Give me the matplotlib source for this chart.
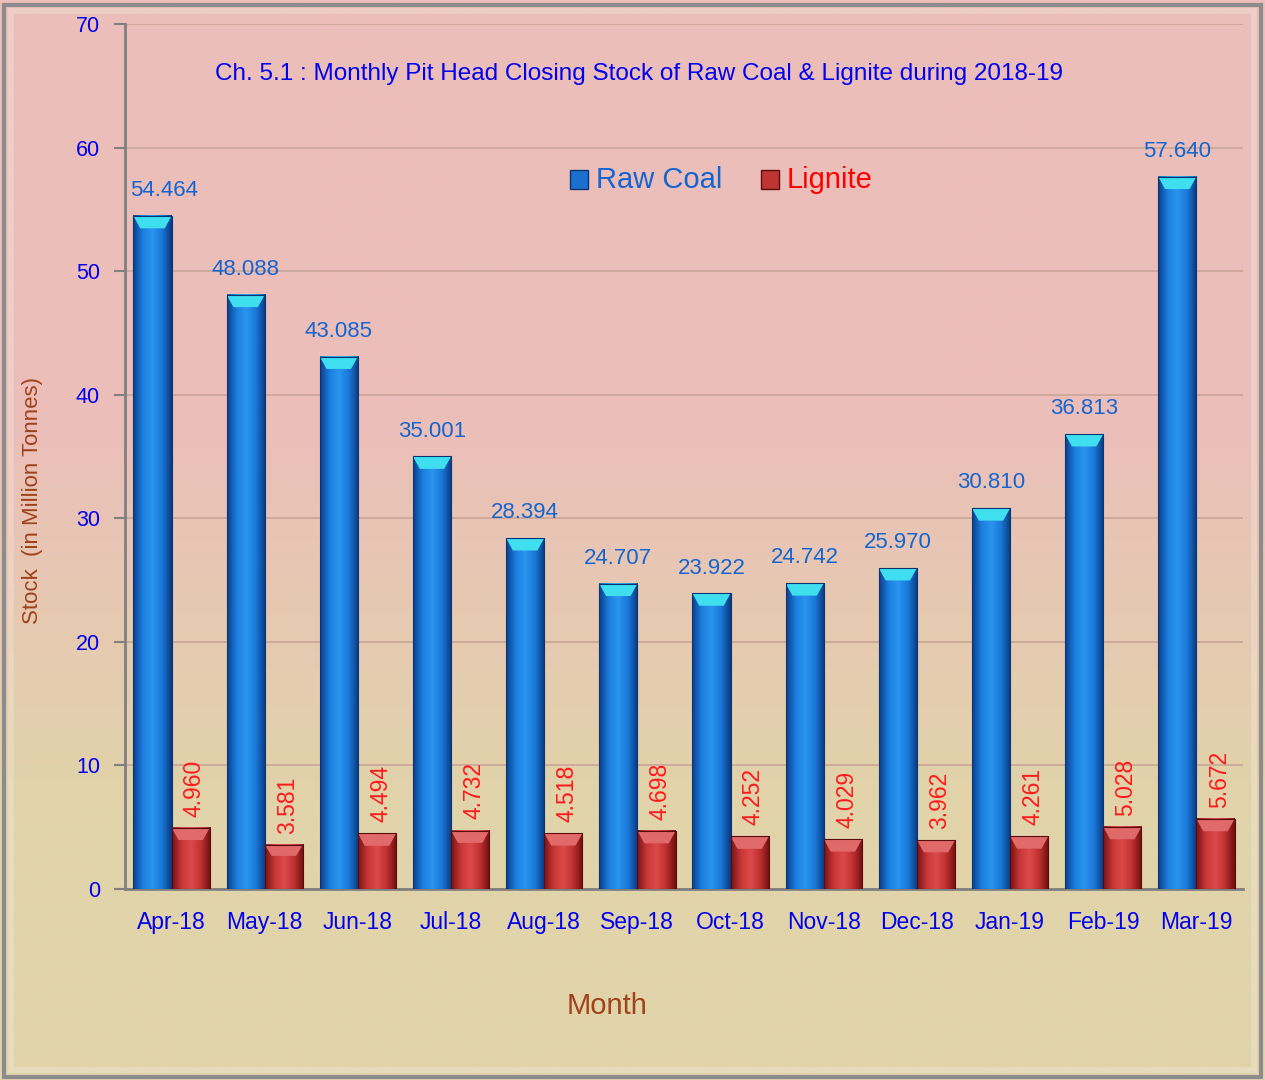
import numpy as np
import matplotlib
matplotlib.use("Agg")
import matplotlib.pyplot as plt
from matplotlib.colors import LinearSegmentedColormap
from matplotlib.patches import Polygon, Rectangle

months = ["Apr-18", "May-18", "Jun-18", "Jul-18", "Aug-18", "Sep-18",
          "Oct-18", "Nov-18", "Dec-18", "Jan-19", "Feb-19", "Mar-19"]
raw_coal = [54.464, 48.088, 43.085, 35.001, 28.394, 24.707,
            23.922, 24.742, 25.970, 30.810, 36.813, 57.640]
lignite = [4.960, 3.581, 4.494, 4.732, 4.518, 4.698,
           4.252, 4.029, 3.962, 4.261, 5.028, 5.672]
y_ticks = [0, 10, 20, 30, 40, 50, 60, 70]

plt.rcParams["font.family"] = ["Liberation Sans", "DejaVu Sans"]

fig = plt.figure(figsize=(12.65, 10.8), dpi=100)

# Figure background: pink at the top fading to beige at the bottom
bg = fig.add_axes([0, 0, 1, 1], zorder=-10)
top = np.array([236, 190, 186]) / 255
bot = np.array([225, 211, 170]) / 255
t = np.clip((np.linspace(0, 1, 400) - 0.38) / 0.36, 0, 1)[:, None]
grad = (1 - t) * top + t * bot
bg.imshow(grad[:, None, :].repeat(2, axis=1), aspect="auto",
          extent=[0, 1, 0, 1], origin="upper")
bg.add_patch(Rectangle((0.003, 0.003), 0.994, 0.992, fill=False,
                       edgecolor="#8c8c8c", linewidth=3))
bg.add_patch(Rectangle((0.009, 0.009), 0.982, 0.981, fill=False,
                       edgecolor="#f6ece4", linewidth=4, alpha=0.35))
bg.set_xlim(0, 1)
bg.set_ylim(0, 1)
bg.axis("off")

ax = fig.add_axes([125 / 1265, 1 - 889 / 1080, (1243 - 125) / 1265, (889 - 24) / 1080])
ax.patch.set_alpha(0)

x = np.arange(len(months))
w = 0.41

blue_cmap = LinearSegmentedColormap.from_list(
    "blue_bar", ["#0a3f8c", "#1c7fe0", "#2a95f0", "#1a78d8", "#0a3a80"])
red_cmap = LinearSegmentedColormap.from_list(
    "red_bar", ["#7a1414", "#c83636", "#dc4a4a", "#c03030", "#6e1010"])
hgrad = np.linspace(0, 1, 64)[None, :]


def shaded_bar(xc, h, cmap, cap_color, edge_color):
    x0, x1 = xc - w / 2, xc + w / 2
    ax.imshow(hgrad, cmap=cmap, aspect="auto", extent=[x0, x1, 0, h],
              origin="lower", zorder=3, interpolation="bicubic")
    cap = min(1.0, h * 0.25)
    inset = w * 0.18
    ax.add_patch(Polygon([[x0, h], [x1, h], [x1 - inset, h - cap], [x0 + inset, h - cap]],
                         closed=True, facecolor=cap_color, edgecolor="none", zorder=4))
    ax.add_patch(Rectangle((x0, 0), w, h, fill=False, edgecolor=edge_color,
                           linewidth=0.8, zorder=5))


for i in x:
    shaded_bar(i - w / 2, raw_coal[i], blue_cmap, "#40dff0", "#0b3570")
    shaded_bar(i + w / 2, lignite[i], red_cmap, "#e06a6a", "#5a0c0c")
    # keep the first label clear of the y axis
    dx = 0.12 if i == 0 else 0.0
    ax.text(i - w / 2 + dx, raw_coal[i] + 1.2, f"{raw_coal[i]:.3f}", ha="center", va="bottom",
            color="#1565d0", fontsize=16)
    ax.text(i + w / 2 + 0.04, lignite[i] + 0.9, f"{lignite[i]:.3f}", ha="center", va="bottom",
            rotation=90, color="#ff1a1a", fontsize=16.5)

ax.set_xlim(-0.5, len(months) - 0.5)
ax.set_ylim(0, 70)
ax.set_yticks(y_ticks)
ax.set_yticklabels([str(v) for v in y_ticks], color="#0000ee", fontsize=15.5)
ax.set_xticks(x)
ax.set_xticklabels(months, color="#0000ee", fontsize=16.5)
ax.tick_params(axis="x", length=0, pad=16)
ax.tick_params(axis="y", length=8, width=1.5, color="#808080", pad=10)
ax.grid(axis="y", color="#c9a597", linewidth=1.2, zorder=0)
ax.set_axisbelow(True)
for s in ["top", "right"]:
    ax.spines[s].set_visible(False)
ax.spines["left"].set_color("#808080")
ax.spines["left"].set_linewidth(2)
ax.spines["bottom"].set_color("#808080")
ax.spines["bottom"].set_linewidth(2)

fig.text(33 / 1265, 1 - 501 / 1080, "Stock  (in Million Tonnes)", rotation=90,
         ha="center", va="center", color="#a0421a", fontsize=16)
fig.text(607 / 1265, 1 - 1006 / 1080, "Month", ha="center", va="center",
         color="#a0421a", fontsize=21)

ax.text(0.46, 0.942, "Ch. 5.1 : Monthly Pit Head Closing Stock of Raw Coal & Lignite during 2018-19",
        transform=ax.transAxes, ha="center", va="center", color="#0000ee", fontsize=17.5)

# Legend entries
ax.add_patch(Rectangle((0.398, 0.809), 0.016, 0.022, transform=ax.transAxes,
                       facecolor="#1a6fcf", edgecolor="#0b3570", zorder=6))
ax.text(0.421, 0.820, "Raw Coal", transform=ax.transAxes, ha="left", va="center",
        color="#1565d0", fontsize=21)
ax.add_patch(Rectangle((0.569, 0.809), 0.016, 0.022, transform=ax.transAxes,
                       facecolor="#c03434", edgecolor="#5a0c0c", zorder=6))
ax.text(0.592, 0.820, "Lignite", transform=ax.transAxes, ha="left", va="center",
        color="#ff0000", fontsize=21)

fig.savefig("out.png", dpi=100)
